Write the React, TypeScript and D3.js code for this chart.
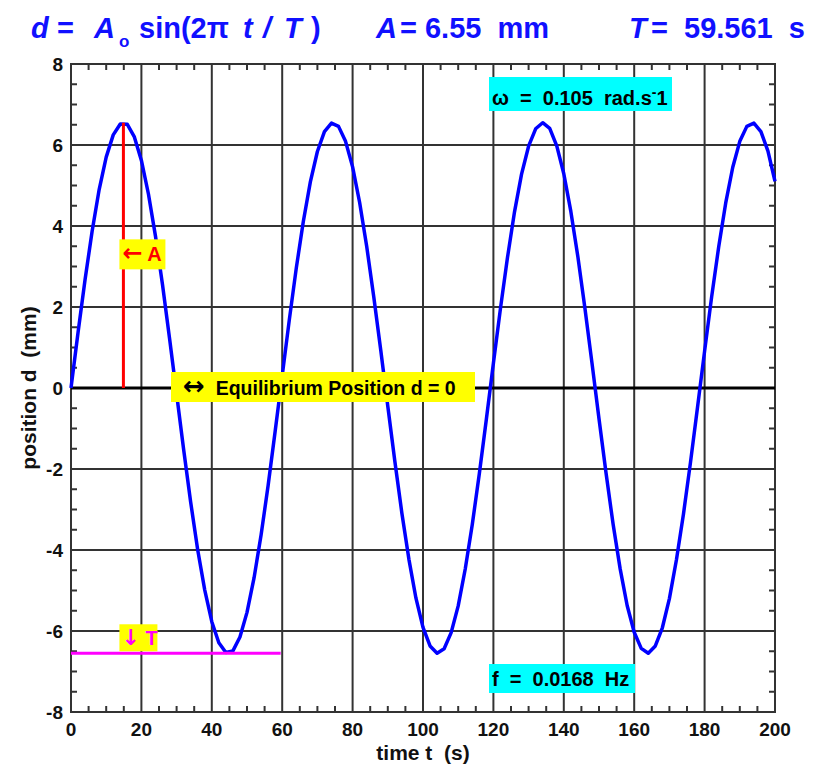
import React, { useEffect, useRef } from "react";
import * as d3 from "d3";

// oscillation parameters printed on the chart
const amplitude = 6.55; // mm
const period = 59.561; // s
const omegaLabel = "0.105";
const freqLabel = "0.0168";

const xTicks = [0, 20, 40, 60, 80, 100, 120, 140, 160, 180, 200];
const yTicks = [-8, -6, -4, -2, 0, 2, 4, 6, 8];

// position, one reading every 2 s
const times = d3.range(0, 201, 2);
const positions = [
  0, 1.37, 2.68, 3.87, 4.9, 5.7, 6.25, 6.52, 6.51, 6.2, 5.62, 4.79, 3.75, 2.55, 1.22,
  -0.15, -1.52, -2.82, -4.0, -4.99, -5.77, -6.29, -6.53, -6.49, -6.15, -5.54, -4.69,
  -3.63, -2.41, -1.07, 0.3, 1.67, 2.96, 4.11, 5.09, 5.84, 6.33, 6.54, 6.46, 6.09, 5.46,
  4.58, 3.5, 2.26, 0.93, -0.45, -1.81, -3.09, -4.23, -5.19, -5.91, -6.37, -6.55, -6.44,
  -6.04, -5.38, -4.47, -3.37, -2.12, -0.77, 0.61, 1.96, 3.22, 4.35, 5.28, 5.97, 6.4,
  6.55, 6.41, 5.98, 5.29, 4.36, 3.24, 1.97, 0.62, -0.76, -2.1, -3.36, -4.46, -5.37,
  -6.03, -6.43, -6.55, -6.37, -5.92, -5.2, -4.24, -3.11, -1.83, -0.47, 0.91, 2.25,
  3.48, 4.57, 5.45, 6.09, 6.46, 6.54, 6.33, 5.85, 5.1,
];

const FONT = "'Liberation Sans', Arial, sans-serif";
const ARROW_FONT = "'DejaVu Sans', sans-serif";
const BLUE = "#1010ff";

const App = () => {
  const svgRef = useRef<SVGSVGElement>(null);

  useEffect(() => {
    const svg = d3.select(svgRef.current);
    svg.selectAll("*").remove();

    const x = d3.scaleLinear().domain([0, 200]).range([71, 775]);
    const y = d3.scaleLinear().domain([-8, 8]).range([712, 64]);
    const [x0, x1] = x.range();
    const [y0, y1] = y.range();

    // grid
    const grid = svg.append("g").attr("stroke", "#333").attr("stroke-width", 2);
    xTicks.slice(1, -1).forEach((t) => {
      grid.append("line").attr("x1", x(t)).attr("x2", x(t)).attr("y1", y0).attr("y2", y1);
    });
    yTicks.slice(1, -1).forEach((v) => {
      grid.append("line").attr("x1", x0).attr("x2", x1).attr("y1", y(v)).attr("y2", y(v));
    });

    // minor ticks on all four sides
    const ticks = svg.append("g").attr("stroke", "#333").attr("stroke-width", 2);
    d3.range(5, 200, 5)
      .filter((t) => t % 20 !== 0)
      .forEach((t) => {
        ticks.append("line").attr("x1", x(t)).attr("x2", x(t)).attr("y1", y0).attr("y2", y0 - 6);
        ticks.append("line").attr("x1", x(t)).attr("x2", x(t)).attr("y1", y1).attr("y2", y1 + 6);
      });
    d3.range(-7.5, 8, 0.5)
      .filter((v) => v % 2 !== 0)
      .forEach((v) => {
        ticks.append("line").attr("x1", x0).attr("x2", x0 + 6).attr("y1", y(v)).attr("y2", y(v));
        ticks.append("line").attr("x1", x1).attr("x2", x1 - 6).attr("y1", y(v)).attr("y2", y(v));
      });

    // frame
    svg
      .append("rect")
      .attr("x", x0)
      .attr("y", y1)
      .attr("width", x1 - x0)
      .attr("height", y0 - y1)
      .attr("fill", "none")
      .attr("stroke", "#333")
      .attr("stroke-width", 2);

    // tick labels
    const lab = svg
      .append("g")
      .attr("font-family", FONT)
      .attr("font-weight", "bold")
      .attr("font-size", 19)
      .attr("fill", "#111");
    xTicks.forEach((t) => {
      lab.append("text").attr("x", x(t)).attr("y", 736).attr("text-anchor", "middle").text(t);
    });
    yTicks.forEach((v) => {
      lab
        .append("text")
        .attr("x", 63)
        .attr("y", y(v) + 7)
        .attr("text-anchor", "end")
        .text(v);
    });

    // axis titles
    svg
      .append("text")
      .attr("x", (x0 + x1) / 2)
      .attr("y", 760)
      .attr("text-anchor", "middle")
      .attr("font-family", FONT)
      .attr("font-weight", "bold")
      .attr("font-size", 21)
      .attr("fill", "#111")
      .style("white-space", "pre")
      .text("time t  (s)");
    svg
      .append("text")
      .attr("transform", `translate(36,${y(0)}) rotate(-90)`)
      .attr("text-anchor", "middle")
      .attr("font-family", FONT)
      .attr("font-weight", "bold")
      .attr("font-size", 21)
      .attr("fill", "#111")
      .style("white-space", "pre")
      .text("position d  (mm)");

    // equilibrium line
    svg
      .append("line")
      .attr("x1", x0)
      .attr("x2", x1)
      .attr("y1", y(0))
      .attr("y2", y(0))
      .attr("stroke", "#000")
      .attr("stroke-width", 3);

    // displacement trace
    const line = d3
      .line<number>()
      .x((_, i) => x(times[i]))
      .y((d) => y(d));
    svg
      .append("path")
      .attr("d", line(positions))
      .attr("fill", "none")
      .attr("stroke", "#0000ff")
      .attr("stroke-width", 3.5)
      .attr("stroke-linejoin", "round");

    // amplitude marker
    svg
      .append("line")
      .attr("x1", x(period / 4))
      .attr("x2", x(period / 4))
      .attr("y1", y(0))
      .attr("y2", y(amplitude))
      .attr("stroke", "#ff0000")
      .attr("stroke-width", 3);

    // period marker
    svg
      .append("line")
      .attr("x1", x(0))
      .attr("x2", x(period))
      .attr("y1", y(-amplitude))
      .attr("y2", y(-amplitude))
      .attr("stroke", "#ff00ff")
      .attr("stroke-width", 3);

    // label boxes
    const box = (
      bx: number,
      by: number,
      bw: number,
      bh: number,
      fill: string,
      tx: number,
      ty: number,
      color: string,
      size: number
    ) => {
      svg.append("rect").attr("x", bx).attr("y", by).attr("width", bw).attr("height", bh).attr("fill", fill);
      return svg
        .append("text")
        .attr("x", tx)
        .attr("y", ty)
        .attr("font-family", FONT)
        .attr("font-weight", "bold")
        .attr("font-size", size)
        .attr("fill", color)
        .style("white-space", "pre");
    };
    const arrow = (
      t: d3.Selection<SVGTextElement, unknown, null, undefined>,
      glyph: string,
      size: number
    ) =>
      t
        .append("tspan")
        .attr("font-family", ARROW_FONT)
        .attr("font-weight", "bold")
        .attr("font-size", size)
        .text(glyph);

    const ax = x(period / 4);
    const tA = box(ax - 4, y(3.3) - 15, 46, 30, "#ffff00", ax - 1, y(3.3) + 7, "#ff0000", 20);
    arrow(tA, "\u2190", 24);
    tA.append("tspan").text(" A");

    const tT = box(ax - 4, y(-amplitude) - 29, 38, 27, "#ffff00", ax - 2, y(-amplitude) - 8, "#ff00ff", 20);
    arrow(tT, "\u2193", 22);
    tT.append("tspan").text(" T");

    const tE = box(171, y(0) - 16, 304, 30, "#ffff00", 183, y(0) + 7, "#000", 19.5);
    arrow(tE, "\u2194", 26);
    tE.append("tspan").text("  Equilibrium Position d = 0");

    const om = box(489, 77, 183, 34, "#00ffff", 492, 105, "#000", 20);
    om.append("tspan").text("\u03c9  =  " + omegaLabel + "  rad.s");
    om.append("tspan").attr("font-size", 14).attr("dy", -8).text("-");
    om.append("tspan").attr("dy", 8).text("1");

    const fq = box(489, 664, 146, 29, "#00ffff", 492, 686, "#000", 20);
    fq.append("tspan").text("f  =  " + freqLabel + "  Hz");

    // title
    const title = svg
      .append("g")
      .attr("font-family", FONT)
      .attr("font-weight", "bold")
      .attr("fill", BLUE);
    const put = (tx: number, text: string, italic = false, size = 29, dy = 0) =>
      title
        .append("text")
        .attr("x", tx)
        .attr("y", 38 + dy)
        .attr("font-style", italic ? "italic" : "normal")
        .attr("font-size", size)
        .style("white-space", "pre")
        .text(text);
    put(31, "d", true);
    put(57, "=");
    put(94, "A", true);
    put(119, "o", false, 17, 9);
    put(139, "sin(2\u03c0");
    put(243, "t", true);
    put(263, "/", true);
    put(284, "T", true);
    put(311, ")");
    put(376, "A", true);
    put(400, "= 6.55  mm");
    put(629, "T", true);
    put(651, "=  59.561  s");
  }, []);

  return (
    <svg
      ref={svgRef}
      width={824}
      height={767}
      style={{ position: "absolute", left: 0, top: 0, background: "#fff" }}
    ></svg>
  );
};

export default App;
